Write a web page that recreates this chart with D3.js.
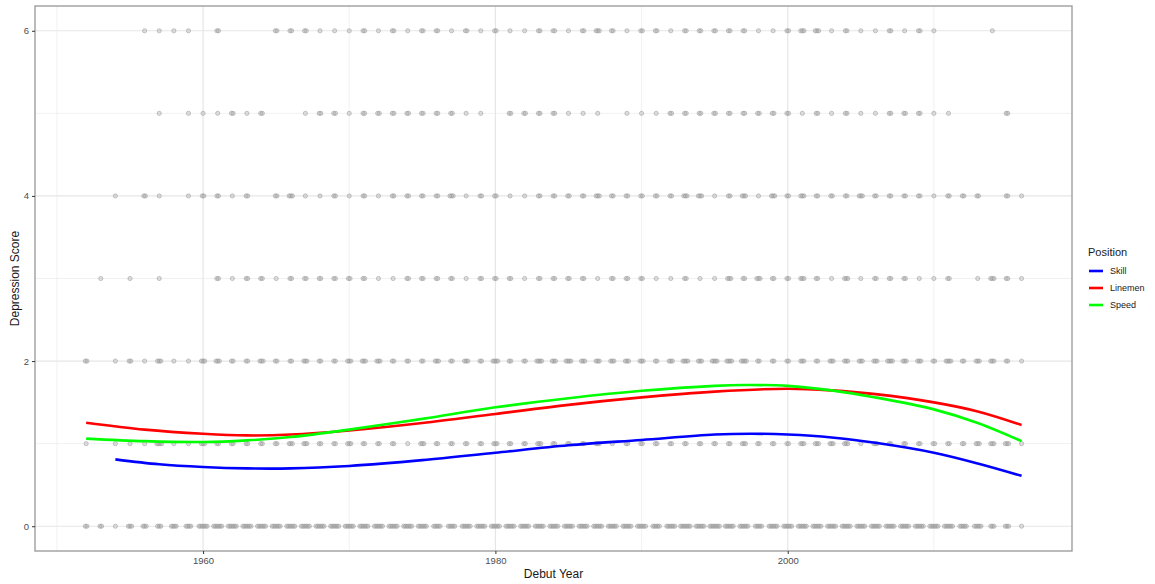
<!DOCTYPE html>
<html>
<head>
<meta charset="utf-8">
<script src="https://d3js.org/d3.v7.min.js"></script>
<style>
    body { margin: 0; background: #fff; }
    svg { font-family: "Liberation Sans", Arial, sans-serif; }
</style>
</head>
<body>
<div id="chart"></div>
<script>
// points: [debut year, how many players at that score]
var score0 = [[1952,2],[1953,2],[1954,1],[1955,3],[1956,3],[1957,3],[1958,4],[1959,4],[1960,6],[1961,6],[1962,6],[1963,6],[1964,6],[1965,6],[1966,6],[1967,6],[1968,6],[1969,6],[1970,6],[1971,6],[1972,6],[1973,6],[1974,6],[1975,6],[1976,5],[1977,5],[1978,6],[1979,6],[1980,6],[1981,6],[1982,6],[1983,6],[1984,6],[1985,6],[1986,6],[1987,6],[1988,6],[1989,6],[1990,6],[1991,5],[1992,6],[1993,7],[1994,6],[1995,7],[1996,6],[1997,6],[1998,5],[1999,6],[2000,6],[2001,6],[2002,6],[2003,6],[2004,6],[2005,6],[2006,6],[2007,6],[2008,6],[2009,6],[2010,6],[2011,6],[2012,5],[2013,5],[2014,3],[2015,3],[2016,1]];
var score1 = [[1952,1],[1954,1],[1955,1],[1956,1],[1957,4],[1958,1],[1959,1],[1960,3],[1961,2],[1962,2],[1963,2],[1964,2],[1965,2],[1966,3],[1967,3],[1968,2],[1969,2],[1970,3],[1971,2],[1972,2],[1973,2],[1974,1],[1975,3],[1976,2],[1977,2],[1978,2],[1979,2],[1980,3],[1981,2],[1982,2],[1983,3],[1984,2],[1985,2],[1986,2],[1987,3],[1988,1],[1989,2],[1990,2],[1991,2],[1992,2],[1993,2],[1994,2],[1995,2],[1996,2],[1997,3],[1998,2],[1999,2],[2000,2],[2001,3],[2002,3],[2003,3],[2004,3],[2005,1],[2006,3],[2007,2],[2008,2],[2009,2],[2010,2],[2011,2],[2012,2],[2013,3],[2014,3],[2015,3],[2016,1]];
var score2 = [[1952,2],[1954,1],[1955,2],[1956,1],[1957,3],[1958,1],[1959,1],[1960,3],[1961,3],[1962,2],[1963,2],[1964,3],[1965,2],[1966,2],[1967,3],[1968,2],[1969,2],[1970,3],[1971,3],[1972,3],[1973,2],[1974,2],[1975,2],[1976,3],[1977,2],[1978,3],[1979,2],[1980,4],[1981,2],[1982,2],[1983,4],[1984,3],[1985,4],[1986,3],[1987,3],[1988,3],[1989,3],[1990,3],[1991,2],[1992,3],[1993,4],[1994,3],[1995,4],[1996,4],[1997,4],[1998,2],[1999,2],[2000,2],[2001,3],[2002,2],[2003,3],[2004,3],[2005,3],[2006,3],[2007,4],[2008,3],[2009,3],[2010,2],[2011,4],[2012,2],[2013,3],[2014,3],[2015,2],[2016,1]];
var score3 = [[1953,1],[1955,1],[1957,1],[1961,2],[1962,1],[1963,2],[1964,2],[1965,1],[1966,2],[1967,2],[1968,2],[1969,2],[1970,2],[1971,2],[1972,1],[1973,1],[1974,2],[1975,2],[1976,2],[1977,2],[1978,1],[1979,2],[1980,2],[1981,2],[1982,1],[1983,2],[1984,2],[1985,2],[1986,2],[1987,1],[1988,2],[1989,2],[1990,2],[1991,1],[1992,1],[1993,2],[1994,1],[1995,1],[1996,3],[1997,2],[1998,3],[1999,2],[2000,2],[2001,3],[2002,2],[2003,1],[2004,3],[2005,1],[2006,2],[2007,2],[2008,2],[2009,1],[2010,1],[2011,2],[2013,1],[2014,3],[2015,2],[2016,1]];
var score4 = [[1954,1],[1956,2],[1957,1],[1959,1],[1960,2],[1961,2],[1962,1],[1963,2],[1965,2],[1966,3],[1967,1],[1968,1],[1969,2],[1970,1],[1971,2],[1972,1],[1973,2],[1974,2],[1975,2],[1976,2],[1977,3],[1978,1],[1979,2],[1980,2],[1981,1],[1982,1],[1983,2],[1984,2],[1985,2],[1986,2],[1987,3],[1988,2],[1989,2],[1990,2],[1991,2],[1992,2],[1993,3],[1994,3],[1995,1],[1996,2],[1997,3],[1998,1],[1999,3],[2000,2],[2001,3],[2002,2],[2003,2],[2004,2],[2005,3],[2006,2],[2007,2],[2008,2],[2009,2],[2010,1],[2011,2],[2012,2],[2013,2],[2015,2],[2016,1]];
var score5 = [[1957,1],[1959,1],[1960,1],[1961,1],[1962,2],[1963,1],[1964,2],[1967,1],[1968,2],[1969,2],[1970,1],[1971,2],[1972,2],[1973,2],[1974,2],[1975,2],[1976,2],[1977,2],[1978,1],[1979,1],[1981,2],[1982,2],[1983,2],[1984,2],[1985,1],[1986,1],[1987,1],[1989,1],[1990,1],[1991,1],[1992,2],[1993,2],[1994,2],[1995,2],[1996,2],[1997,2],[1998,2],[1999,2],[2000,2],[2001,1],[2002,2],[2003,1],[2004,2],[2005,1],[2006,1],[2007,2],[2008,2],[2009,2],[2010,1],[2011,1],[2015,2]];
var score6 = [[1956,1],[1957,1],[1958,1],[1959,1],[1961,2],[1965,2],[1966,2],[1967,2],[1968,1],[1969,1],[1970,1],[1971,2],[1972,1],[1973,2],[1974,1],[1975,2],[1976,2],[1977,1],[1978,2],[1979,1],[1980,2],[1981,1],[1982,1],[1983,2],[1984,2],[1985,1],[1986,2],[1987,3],[1988,2],[1989,1],[1990,2],[1991,2],[1992,1],[1993,2],[1994,2],[1995,2],[1996,2],[1997,2],[1998,1],[1999,1],[2000,2],[2001,3],[2002,3],[2003,1],[2004,2],[2005,1],[2006,1],[2007,2],[2008,1],[2009,2],[2010,1],[2014,1]];

// smoothed trend per position
var skillYears = [1954, 1957, 1960, 1963, 1966, 1970, 1975, 1980, 1985, 1990, 1995, 1997.5, 2000, 2003, 2006, 2010, 2013, 2016];
var skillValues = [0.81, 0.75, 0.717, 0.70, 0.70, 0.73, 0.80, 0.89, 0.98, 1.045, 1.11, 1.12, 1.11, 1.075, 1.01, 0.89, 0.76, 0.61];
var linemenYears = [1952, 1956, 1960, 1963, 1966, 1970, 1975, 1980, 1985, 1990, 1995, 2000, 2003, 2006, 2010, 2013, 2016];
var linemenValues = [1.254, 1.17, 1.12, 1.10, 1.11, 1.16, 1.25, 1.36, 1.47, 1.56, 1.63, 1.665, 1.645, 1.60, 1.50, 1.39, 1.226];
var speedYears = [1952, 1956, 1960, 1963, 1966, 1970, 1975, 1980, 1985, 1990, 1995, 1997, 2000, 2003, 2006, 2010, 2013, 2016];
var speedValues = [1.061, 1.03, 1.02, 1.04, 1.08, 1.17, 1.30, 1.44, 1.55, 1.64, 1.70, 1.71, 1.70, 1.645, 1.56, 1.415, 1.25, 1.03];

var positions = ["Skill", "Linemen", "Speed"];
var positionColors = ["#0000ff", "#ff0000", "#00ff00"];

var xTicks = [1960, 1980, 2000];
var xMinor = [1950, 1970, 1990, 2010];
var yTicks = [0, 2, 4, 6];
var yMinor = [1, 3, 5];

var width = 1155, height = 584;
var margin = {left: 35, right: 83, top: 6, bottom: 33};

var svg = d3.select("#chart").append("svg")
    .attr("width", width)
    .attr("height", height);

var x = d3.scaleLinear()
    .domain([1948.5, 2019.45])
    .range([margin.left, width - margin.right]);

var y = d3.scaleLinear()
    .domain([-0.3, 6.3])
    .range([height - margin.bottom, margin.top]);

// grid
var grid = svg.append("g");
grid.selectAll(".vminor").data(xMinor).enter().append("line")
    .attr("x1", function(d) { return x(d); }).attr("x2", function(d) { return x(d); })
    .attr("y1", y.range()[0]).attr("y2", y.range()[1])
    .style("stroke", "#ebebeb").style("stroke-width", 0.7);
grid.selectAll(".hminor").data(yMinor).enter().append("line")
    .attr("y1", function(d) { return y(d); }).attr("y2", function(d) { return y(d); })
    .attr("x1", x.range()[0]).attr("x2", x.range()[1])
    .style("stroke", "#ebebeb").style("stroke-width", 0.7);
grid.selectAll(".vmajor").data(xTicks).enter().append("line")
    .attr("x1", function(d) { return x(d); }).attr("x2", function(d) { return x(d); })
    .attr("y1", y.range()[0]).attr("y2", y.range()[1])
    .style("stroke", "#e6e6e6").style("stroke-width", 1.2);
grid.selectAll(".hmajor").data(yTicks).enter().append("line")
    .attr("y1", function(d) { return y(d); }).attr("y2", function(d) { return y(d); })
    .attr("x1", x.range()[0]).attr("x2", x.range()[1])
    .style("stroke", "#e6e6e6").style("stroke-width", 1.2);

// points, overlapping players at the same year spread a little
function expand(rows, score) {
    var out = [];
    rows.forEach(function(r) {
        for (var i = 0; i < r[1]; i++) {
            out.push({year: r[0] + (i - (r[1] - 1) / 2) * 0.11, score: score});
        }
    });
    return out;
}
var points = [].concat(expand(score0, 0), expand(score1, 1), expand(score2, 2),
    expand(score3, 3), expand(score4, 4), expand(score5, 5), expand(score6, 6));

svg.append("g").selectAll("circle")
    .data(points)
    .enter().append("circle")
    .attr("cx", function(d) { return x(d.year); })
    .attr("cy", function(d) { return y(d.score); })
    .attr("r", 2.1)
    .style("fill", "#999")
    .style("fill-opacity", 0.3)
    .style("stroke", "#999")
    .style("stroke-opacity", 0.6)
    .style("stroke-width", 0.9);

// trend lines
var line = d3.line()
    .x(function(d) { return x(d[0]); })
    .y(function(d) { return y(d[1]); })
    .curve(d3.curveCatmullRom.alpha(0.5));

var series = [
    d3.zip(skillYears, skillValues),
    d3.zip(linemenYears, linemenValues),
    d3.zip(speedYears, speedValues)
];

// draw order as in ggplot: Skill, Linemen, Speed
svg.append("g").selectAll("path")
    .data(series)
    .enter().append("path")
    .attr("d", line)
    .style("fill", "none")
    .style("stroke", function(d, i) { return positionColors[i]; })
    .style("stroke-width", 2.6);

// panel border
svg.append("rect")
    .attr("x", x.range()[0])
    .attr("y", y.range()[1])
    .attr("width", x.range()[1] - x.range()[0])
    .attr("height", y.range()[0] - y.range()[1])
    .style("fill", "none")
    .style("stroke", "#9e9e9e")
    .style("stroke-width", 1.4);

// axes
var xAxis = svg.append("g")
    .attr("transform", "translate(0," + y.range()[0] + ")")
    .call(d3.axisBottom(x).tickValues(xTicks).tickFormat(d3.format("d")).tickSize(3).tickPadding(3));
var yAxis = svg.append("g")
    .attr("transform", "translate(" + x.range()[0] + ",0)")
    .call(d3.axisLeft(y).tickValues(yTicks).tickFormat(d3.format("d")).tickSize(3).tickPadding(3));

[xAxis, yAxis].forEach(function(a) {
    a.select(".domain").remove();
    a.selectAll(".tick line").style("stroke", "#333").style("stroke-width", 1);
    a.selectAll(".tick text")
        .style("font-family", "Liberation Sans, Arial, sans-serif")
        .style("font-size", "9.5px")
        .style("fill", "#4d4d4d");
});

svg.append("text")
    .attr("x", (x.range()[0] + x.range()[1]) / 2)
    .attr("y", 578)
    .attr("text-anchor", "middle")
    .style("font-size", "12px")
    .style("fill", "#1a1a1a")
    .text("Debut Year");

svg.append("text")
    .attr("transform", "translate(19," + (y.range()[0] + y.range()[1]) / 2 + ") rotate(-90)")
    .attr("text-anchor", "middle")
    .style("font-size", "12px")
    .style("fill", "#1a1a1a")
    .text("Depression Score");

// legend
var legend = svg.append("g").attr("transform", "translate(1088,0)");
legend.append("text")
    .attr("x", 0)
    .attr("y", 256)
    .style("font-size", "11px")
    .style("fill", "#1a1a1a")
    .text("Position");

var keys = legend.selectAll(".key")
    .data(positions)
    .enter().append("g")
    .attr("class", "key")
    .attr("transform", function(d, i) { return "translate(0," + (271 + i * 17) + ")"; });

keys.append("line")
    .attr("x1", 1).attr("x2", 15)
    .attr("y1", 0).attr("y2", 0)
    .style("stroke", function(d, i) { return positionColors[i]; })
    .style("stroke-width", 2.6);

keys.append("text")
    .attr("x", 22)
    .attr("y", 3.3)
    .style("font-size", "9px")
    .style("fill", "#1a1a1a")
    .text(function(d) { return d; });
</script>
</body>
</html>
